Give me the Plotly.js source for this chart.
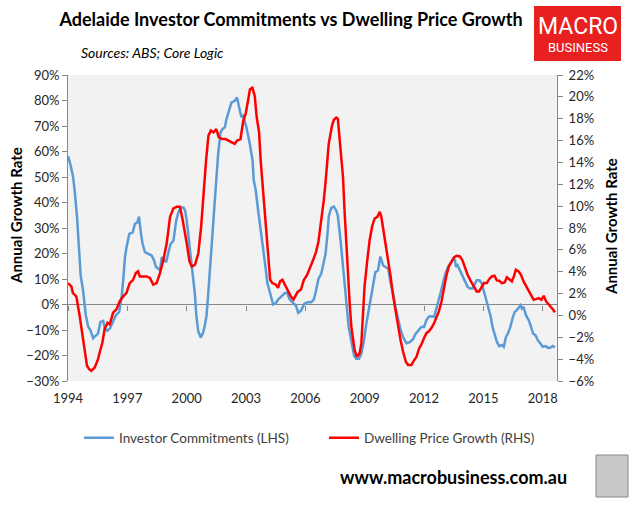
<!DOCTYPE html>
<html>
<head>
<meta charset="utf-8">
<script src="https://cdn.plot.ly/plotly-3.0.1.min.js"></script>
<style>
html,body{margin:0;padding:0;background:#fff;}
#chart{width:640px;height:507px;}
</style>
</head>
<body>
<div id="chart"></div>
<script>
// ---- Data (decimal years, % growth) ----
const investorYears = [1994.00,1994.12,1994.25,1994.34,1994.46,1994.56,1994.64,1994.76,1994.90,1995.02,1995.13,1995.27,1995.44,1995.52,1995.64,1995.78,1995.86,1995.98,1996.12,1996.25,1996.42,1996.59,1996.71,1996.79,1996.88,1996.96,1997.10,1997.27,1997.38,1997.50,1997.59,1997.69,1997.77,1997.89,1998.06,1998.23,1998.35,1998.45,1998.57,1998.65,1998.74,1998.82,1998.96,1999.08,1999.19,1999.33,1999.47,1999.58,1999.70,1999.84,1999.92,2000.00,2000.16,2000.29,2000.41,2000.49,2000.58,2000.71,2000.83,2000.91,2001.00,2001.08,2001.17,2001.25,2001.34,2001.47,2001.59,2001.71,2001.81,2001.93,2002.01,2002.15,2002.26,2002.43,2002.55,2002.65,2002.77,2002.85,2003.02,2003.19,2003.33,2003.39,2003.49,2003.61,2003.73,2003.86,2003.98,2004.08,2004.20,2004.37,2004.51,2004.62,2004.79,2004.96,2005.08,2005.21,2005.38,2005.53,2005.64,2005.78,2005.95,2006.12,2006.29,2006.42,2006.54,2006.66,2006.80,2006.91,2007.02,2007.11,2007.19,2007.31,2007.44,2007.56,2007.64,2007.78,2007.90,2007.98,2008.07,2008.19,2008.32,2008.46,2008.57,2008.71,2008.83,2008.96,2009.08,2009.20,2009.30,2009.42,2009.54,2009.67,2009.79,2009.93,2010.05,2010.19,2010.30,2010.44,2010.55,2010.69,2010.82,2010.94,2011.11,2011.28,2011.45,2011.57,2011.70,2011.86,2012.00,2012.12,2012.24,2012.37,2012.51,2012.63,2012.71,2012.85,2012.97,2013.08,2013.22,2013.36,2013.47,2013.56,2013.61,2013.69,2013.81,2013.93,2014.07,2014.20,2014.32,2014.44,2014.54,2014.66,2014.80,2014.92,2015.03,2015.14,2015.25,2015.37,2015.46,2015.56,2015.68,2015.80,2015.93,2016.03,2016.14,2016.24,2016.36,2016.47,2016.58,2016.69,2016.81,2016.88,2016.95,2017.03,2017.15,2017.29,2017.41,2017.51,2017.63,2017.75,2017.88,2018.00,2018.14,2018.27,2018.39,2018.51,2018.61];
const investorCommitments = [58.2,55,50.4,44.5,34,22.5,11.4,5.6,-4.2,-8.7,-10,-13.2,-12,-11.3,-6.8,-6.4,-9.4,-10.3,-9.4,-6.8,-4.2,-2.9,3,9.5,18.6,22.5,27.7,28.3,31.6,32.2,34.5,27.7,23.8,20.5,19.9,19.2,17.3,14.7,14,13.4,18.6,17.9,16.6,20.5,23.8,25,32.9,36.1,38,38,36.8,33,22.7,12.3,4.5,-4.5,-10.4,-13,-11,-8.4,-4.5,3.2,12.3,23.4,33,46,59,67.5,68.8,69.5,72.7,76.6,79.2,79.9,81.2,77.3,73.4,74,69.5,63,56.5,48.7,44.8,37,30.5,21.4,14.9,8.4,4.5,0,0.6,1.9,3.2,4.5,4.5,1.9,0.6,-0.5,-3.3,-2.4,0.3,0.9,0.9,1.8,5.5,10,12,16,19.9,27,34.9,37.9,38.4,36.9,34.9,25,14.6,8.1,0.3,-8.9,-14.1,-20,-21.3,-21.3,-19.3,-14.1,-7.6,-2.4,2.9,6.8,12.7,13.3,18.8,15.3,14.6,14,8.8,4.2,-1,-6.3,-10.2,-12.8,-15.2,-14.8,-13.5,-11.5,-10.2,-8.8,-8.8,-6.1,-4.8,-4.6,-4.8,-0.9,1.7,5,8.9,12.2,14.8,16.7,18,17.4,14.8,15.4,13.5,11.5,8.9,6.9,6.3,6.3,7.6,9.5,9.5,8.2,5,1.7,-1.6,-4.8,-8.8,-12,-14.6,-16.3,-15.9,-16.6,-12.7,-11.4,-8.8,-5.5,-2.9,-2.2,-1.2,-0.3,-1.6,-0.9,-4.2,-6.1,-8.8,-11.4,-12,-14,-15.3,-16.6,-16.3,-17,-16.9,-16.3,-16.9];

const priceYears = [1994.00,1994.17,1994.25,1994.42,1994.59,1994.72,1994.84,1994.96,1995.06,1995.18,1995.35,1995.52,1995.60,1995.74,1995.85,1996.00,1996.11,1996.28,1996.45,1996.62,1996.79,1996.95,1997.12,1997.29,1997.43,1997.54,1997.63,1997.80,1997.97,1998.14,1998.31,1998.48,1998.65,1998.82,1998.99,1999.16,1999.33,1999.50,1999.66,1999.80,1999.92,2000.03,2000.14,2000.26,2000.42,2000.59,2000.73,2000.85,2000.98,2001.10,2001.22,2001.36,2001.50,2001.62,2001.79,2001.96,2002.13,2002.30,2002.43,2002.55,2002.72,2002.86,2002.98,2003.10,2003.20,2003.32,2003.44,2003.54,2003.66,2003.74,2003.91,2004.08,2004.22,2004.33,2004.50,2004.62,2004.72,2004.84,2005.01,2005.13,2005.26,2005.40,2005.61,2005.78,2005.92,2006.08,2006.20,2006.32,2006.42,2006.54,2006.66,2006.76,2006.85,2006.93,2007.02,2007.10,2007.18,2007.27,2007.35,2007.44,2007.56,2007.64,2007.73,2007.81,2007.90,2007.98,2008.06,2008.15,2008.23,2008.32,2008.40,2008.49,2008.61,2008.74,2008.83,2008.91,2008.99,2009.13,2009.25,2009.37,2009.50,2009.64,2009.76,2009.84,2009.96,2010.09,2010.21,2010.31,2010.43,2010.55,2010.69,2010.81,2010.94,2011.08,2011.19,2011.36,2011.50,2011.62,2011.75,2011.86,2012.00,2012.12,2012.24,2012.37,2012.51,2012.63,2012.75,2012.88,2013.02,2013.14,2013.25,2013.39,2013.53,2013.64,2013.81,2013.93,2014.07,2014.20,2014.37,2014.54,2014.66,2014.78,2014.92,2015.03,2015.17,2015.29,2015.42,2015.56,2015.68,2015.80,2015.93,2016.07,2016.19,2016.31,2016.44,2016.54,2016.64,2016.78,2016.90,2017.03,2017.15,2017.29,2017.42,2017.54,2017.66,2017.80,2017.93,2018.05,2018.17,2018.31,2018.44,2018.53,2018.61];
const dwellingPriceGrowth = [2.96,2.66,2.05,1.75,-0.05,-1.57,-3.08,-4.6,-4.9,-5.07,-4.76,-4.0,-3.39,-2.48,-1.26,-0.66,-0.82,0.25,0.56,1.3,1.75,2.05,2.96,3.26,3.87,4.03,3.57,3.57,3.57,3.43,2.82,2.96,3.87,5.08,6.6,9.03,9.8,9.94,9.94,8.7,7.51,6.3,4.94,4.48,4.64,5.69,8.12,11.15,14.18,16.45,16.91,16.75,17.05,16.31,16.14,16.14,16.0,15.84,15.7,16.0,16.14,17.8,18.43,19.64,20.69,20.83,20.09,18.13,16.75,14.18,10.54,6.3,3.26,2.96,2.82,2.52,3.12,3.26,2.66,2.35,1.75,1.46,2.16,2.38,3.23,3.69,4.15,4.76,5.21,5.82,6.74,8.1,9.33,10.55,12.2,13.9,15.7,16.6,17.4,17.9,18.1,18.0,16.3,14.8,12.7,9.6,6.6,4.15,1.4,-1.0,-2.26,-3.17,-3.78,-3.48,-2.56,-0.12,2.62,5.06,6.9,8.1,8.87,9.02,9.48,9.02,7.65,6.28,5.06,3.54,1.86,0.49,-1.04,-2.26,-3.32,-4.24,-4.54,-4.54,-4.09,-3.78,-3.02,-2.68,-2.07,-1.62,-1.46,-1.16,-0.7,-0.09,0.37,1.28,2.8,3.72,4.48,4.94,5.34,5.46,5.4,5.09,4.33,3.72,3.11,2.5,2.2,2.2,2.65,2.96,2.96,3.32,3.57,3.63,3.2,3.17,2.96,3.02,3.5,3.32,3.11,3.57,4.18,4.02,3.72,3.11,2.71,2.35,1.89,1.43,1.49,1.58,1.43,1.8,1.28,0.98,0.76,0.52,0.27];

const xTickVals = [1994,1997,2000,2003,2006,2009,2012,2015,2018];
const xTickText = ['1994','1997','2000','2003','2006','2009','2012','2015','2018'];

const FONT = 'Lato, "Open Sans", sans-serif';
const GRAY = '#868686';

// pixel helpers for decoration placement (plot area 68..557 x, 75..381 y)
const px = v => (v - 68) / 489;
const py = v => (381 - v) / 306;

const traces = [
  {x: investorYears, y: investorCommitments, type:'scatter', mode:'lines',
   name:'Investor Commitments (LHS)', line:{color:'#5B9BD5', width:2.5}, xaxis:'x', yaxis:'y', legend:'legend'},
  {x: priceYears, y: dwellingPriceGrowth, type:'scatter', mode:'lines',
   name:'Dwelling Price Growth (RHS)', line:{color:'#FF0000', width:2.5}, xaxis:'x', yaxis:'y2', legend:'legend2'},
  {x: [], y: [], type:'scatter', mode:'lines', xaxis:'x2', yaxis:'y', showlegend:false, hoverinfo:'skip'}
];

const legendFont = {family:FONT, size:13.5, color:'#404040'};

const layout = {
  width:640, height:507,
  margin:{l:68, r:83, t:75, b:126, pad:0},
  paper_bgcolor:'#ffffff', plot_bgcolor:'#f2f2f2',
  font:{family:FONT, size:13, color:'#262626'},
  showlegend:true,
  legend:{orientation:'h', x:px(79), y:py(438), xanchor:'left', yanchor:'middle',
          font:legendFont, bgcolor:'rgba(0,0,0,0)', itemwidth:30},
  legend2:{orientation:'h', x:px(324), y:py(438), xanchor:'left', yanchor:'middle',
          font:legendFont, bgcolor:'rgba(0,0,0,0)', itemwidth:30},
  xaxis:{range:[1994,2018.72], tickvals:xTickVals, ticktext:xTickText, showline:false,
         ticks:'', showgrid:false, zeroline:false, fixedrange:true, ticklabelstandoff:8,
         tickfont:{family:FONT, size:13, color:'#262626'}},
  xaxis2:{overlaying:'x', anchor:'free', position:0.25, range:[1994,2018.72], tickvals:xTickVals,
          ticks:'outside', ticklen:5, tickcolor:GRAY, tickwidth:1, showticklabels:false,
          showline:false, showgrid:false, zeroline:false},
  yaxis:{range:[-30,90], dtick:10, tick0:0, ticksuffix:'%', showline:true, linecolor:GRAY, linewidth:1,
         ticks:'outside', ticklen:5, tickcolor:GRAY, showgrid:false,
         zeroline:true, zerolinecolor:GRAY, zerolinewidth:1,
         tickfont:{family:FONT, size:13, color:'#262626'}},
  yaxis2:{range:[-6,22], dtick:2, tick0:0, ticksuffix:'%', overlaying:'y', side:'right', anchor:'x',
          showline:true, linecolor:GRAY, linewidth:1, ticks:'outside', ticklen:5, tickcolor:GRAY,
          showgrid:false, zeroline:false, ticklabelstandoff:3,
          tickfont:{family:FONT, size:13, color:'#262626'}},
  title:{text:'<b>Adelaide Investor Commitments vs Dwelling Price Growth</b>',
         x:291/640, xanchor:'center', y:1-20/507, yanchor:'middle',
         font:{family:FONT, size:18, color:'#000000'}},
  shapes:[
    {type:'rect', xref:'paper', yref:'paper', x0:px(534), x1:px(621), y0:py(61), y1:py(6),
     fillcolor:'#e8201f', line:{width:0}, layer:'above'},
    {type:'rect', xref:'paper', yref:'paper', x0:px(596), x1:px(628), y0:py(497), y1:py(455),
     fillcolor:'#c8c8c8', line:{width:1, color:'#8a8a8a'}, layer:'above'}
  ],
  annotations:[
    {text:'<i>Sources: ABS; Core Logic</i>', xref:'paper', yref:'paper', x:px(79), y:py(52),
     xanchor:'left', yanchor:'middle', showarrow:false, font:{family:FONT, size:14, color:'#000'}},
    {text:'<b>Annual Growth Rate</b>', xref:'paper', yref:'paper', x:px(16), y:py(216),
     xanchor:'center', yanchor:'middle', textangle:-90, showarrow:false,
     font:{family:FONT, size:15, color:'#000'}},
    {text:'<b>Annual Growth Rate</b>', xref:'paper', yref:'paper', x:px(611), y:py(227),
     xanchor:'center', yanchor:'middle', textangle:-90, showarrow:false,
     font:{family:FONT, size:15, color:'#000'}},
    {text:'MACRO', xref:'paper', yref:'paper', x:px(577.5), y:py(27),
     xanchor:'center', yanchor:'middle', showarrow:false,
     font:{family:'"Liberation Sans Narrow", "Roboto", sans-serif', size:23, color:'#ffffff'}},
    {text:'BUSINESS', xref:'paper', yref:'paper', x:px(577.5), y:py(47),
     xanchor:'center', yanchor:'middle', showarrow:false,
     font:{family:'"Liberation Sans Narrow", "Roboto", sans-serif', size:13, color:'#ffffff'}},
    {text:'<b>www.macrobusiness.com.au</b>', xref:'paper', yref:'paper', x:px(453), y:py(477),
     xanchor:'center', yanchor:'middle', showarrow:false,
     font:{family:FONT, size:18, color:'#000'}}
  ]
};

Plotly.newPlot('chart', traces, layout, {displayModeBar:false, staticPlot:true});
</script>
</body>
</html>
